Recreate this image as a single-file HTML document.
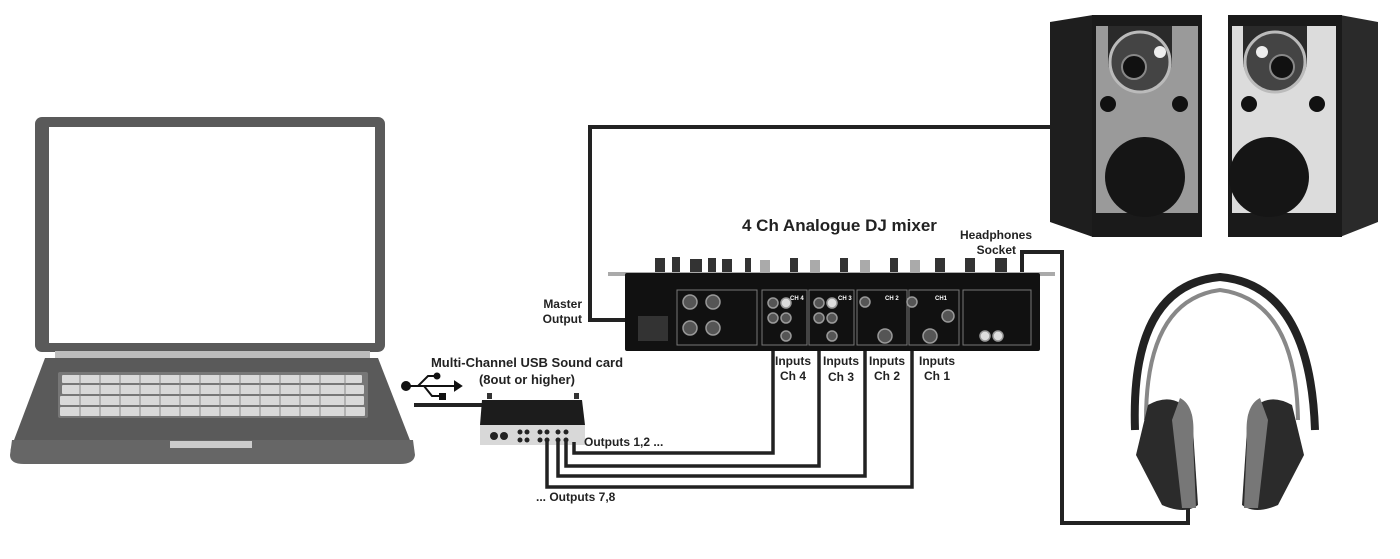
<!DOCTYPE html>
<html><head><meta charset="utf-8"><style>
html,body{margin:0;padding:0;background:#fff;}
svg{display:block;}
text{font-family:"Liberation Sans",Arial,sans-serif;font-weight:bold;fill:#222;}
</style></head><body>
<svg width="1400" height="559" viewBox="0 0 1400 559" xmlns="http://www.w3.org/2000/svg">
<!-- Laptop -->
<rect x="35" y="117" width="350" height="235" rx="7" fill="#5a5a5a"/>
<rect x="49" y="127" width="326" height="216" fill="#fff"/>
<rect x="55" y="351" width="315" height="8" fill="#bdbdbd"/>
<path d="M45 358 H378 L413 448 Q415 462 400 462 H22 Q8 462 11 448 Z" fill="#5a5a5a"/>
<path d="M12 440 H413 L415 455 Q414 464 400 464 H24 Q10 464 10 455 Z" fill="#666"/>
<rect x="170" y="441" width="82" height="7" fill="#ccc"/>
<rect x="58" y="372" width="310" height="46" rx="2" fill="#777"/>
<g fill="#d9d9d9">
<rect x="62" y="375" width="300" height="8" rx="1"/>
<rect x="62" y="385" width="302" height="9" rx="1"/>
<rect x="60" y="396" width="304" height="9" rx="1"/>
<rect x="60" y="407" width="305" height="9" rx="1"/>
</g>
<g stroke="#8a8a8a" stroke-width="1">
<path d="M80 375v41M100 375v41M120 375v41M140 375v41M160 375v41M180 375v41M200 375v41M220 375v41M240 375v41M260 375v41M280 375v41M300 375v41M320 375v41M345 375v41"/>
</g>
<!-- USB symbol -->
<g fill="#111" stroke="#111" stroke-width="2">
<circle cx="406" cy="386" r="4"/>
<path d="M406 386 H455" fill="none"/>
<path d="M418 386 L428 376 H436" fill="none"/>
<path d="M424 386 L432 396 H441" fill="none"/>
<circle cx="437" cy="376" r="2.5"/>
<rect x="440" y="394" width="5" height="5"/>
<path d="M455 382 L461 386 L455 390 Z"/>
</g>
<path d="M414 405 H482" stroke="#222" stroke-width="4" fill="none"/>
<!-- Sound card -->
<rect x="487" y="393" width="5" height="6" fill="#333"/><rect x="574" y="393" width="5" height="6" fill="#333"/>
<path d="M482 400 H582 L585 425 H480 Z" fill="#1c1c1c"/>
<rect x="480" y="425" width="105" height="20" fill="#d8d8d8"/>
<g fill="#222"><circle cx="494" cy="436" r="4"/><circle cx="504" cy="436" r="4"/>
<circle cx="520" cy="432" r="2.5"/><circle cx="527" cy="432" r="2.5"/><circle cx="520" cy="440" r="2.5"/><circle cx="527" cy="440" r="2.5"/>
<circle cx="540" cy="432" r="2.5"/><circle cx="547" cy="432" r="2.5"/><circle cx="540" cy="440" r="2.5"/><circle cx="547" cy="440" r="2.5"/>
<circle cx="558" cy="432" r="2.5"/><circle cx="566" cy="432" r="2.5"/><circle cx="558" cy="440" r="2.5"/><circle cx="566" cy="440" r="2.5"/></g>
<g stroke="#222" stroke-width="3.5" fill="none">
<path d="M574 442 V453 H773 V300"/>
<path d="M566 442 V466 H819 V300"/>
<path d="M558 442 V476 H865 V300"/>
<path d="M547 442 V487 H912 V300"/>
</g>
<path d="M640 320 H590 V127 H1055" stroke="#222" stroke-width="4" fill="none"/>
<path d="M1022 274 V252 H1062 V523 H1188 V503" stroke="#222" stroke-width="4" fill="none"/>
<!-- Mixer -->
<g fill="#333">
<rect x="655" y="258" width="10" height="15"/><rect x="672" y="257" width="8" height="16"/><rect x="690" y="259" width="12" height="14"/><rect x="708" y="258" width="8" height="15"/><rect x="722" y="259" width="10" height="14"/><rect x="745" y="258" width="6" height="15"/><rect x="790" y="258" width="8" height="15"/><rect x="840" y="258" width="8" height="15"/><rect x="890" y="258" width="8" height="15"/><rect x="935" y="258" width="10" height="15"/><rect x="965" y="258" width="10" height="15"/><rect x="995" y="258" width="12" height="15"/>
</g>
<g fill="#aaa"><rect x="760" y="260" width="10" height="13"/><rect x="810" y="260" width="10" height="13"/><rect x="860" y="260" width="10" height="13"/><rect x="910" y="260" width="10" height="13"/></g>
<path d="M608 272 H1055 V276 H608 Z" fill="#aaa"/>
<rect x="625" y="273" width="415" height="78" rx="2" fill="#111"/>
<g fill="none" stroke="#777" stroke-width="1">
<rect x="677" y="290" width="80" height="55"/><rect x="762" y="290" width="45" height="55"/><rect x="809" y="290" width="45" height="55"/><rect x="857" y="290" width="50" height="55"/><rect x="909" y="290" width="50" height="55"/><rect x="963" y="290" width="68" height="55"/>
</g>
<rect x="638" y="316" width="30" height="25" fill="#333"/>
<g fill="#555" stroke="#999" stroke-width="1.5">
<circle cx="690" cy="302" r="7"/><circle cx="713" cy="302" r="7"/><circle cx="690" cy="328" r="7"/><circle cx="713" cy="328" r="7"/>
<circle cx="773" cy="303" r="5"/><circle cx="786" cy="303" r="5" fill="#ddd"/><circle cx="773" cy="318" r="5"/><circle cx="786" cy="318" r="5"/><circle cx="786" cy="336" r="5"/>
<circle cx="819" cy="303" r="5"/><circle cx="832" cy="303" r="5" fill="#ddd"/><circle cx="819" cy="318" r="5"/><circle cx="832" cy="318" r="5"/><circle cx="832" cy="336" r="5"/>
<circle cx="865" cy="302" r="5"/><circle cx="885" cy="336" r="7"/><circle cx="912" cy="302" r="5"/><circle cx="930" cy="336" r="7"/><circle cx="948" cy="316" r="6"/><circle cx="985" cy="336" r="5" fill="#ddd"/><circle cx="998" cy="336" r="5" fill="#ddd"/>
</g>
<g font-size="6"><text x="790" y="300" style="fill:#fff">CH 4</text><text x="838" y="300" style="fill:#fff">CH 3</text><text x="885" y="300" style="fill:#fff">CH 2</text><text x="935" y="300" style="fill:#fff">CH1</text></g>
<!-- Speakers -->
<path d="M1050 22 L1093 15 V237 L1050 222 Z" fill="#1e1e1e"/>
<rect x="1092" y="15" width="110" height="222" fill="#1a1a1a"/>
<path d="M1096 26 H1198 V213 H1096 Z" fill="#9a9a9a"/>
<path d="M1108 26 V60 A32 32 0 0 0 1172 60 V26 Z" fill="#2a2a2a"/>
<circle cx="1140" cy="62" r="30" fill="#444" stroke="#bbb" stroke-width="3"/>
<circle cx="1134" cy="67" r="12" fill="#111" stroke="#888" stroke-width="2"/>
<circle cx="1160" cy="52" r="6" fill="#eee"/>
<circle cx="1108" cy="104" r="8" fill="#111"/><circle cx="1180" cy="104" r="8" fill="#111"/>
<circle cx="1145" cy="177" r="40" fill="#151515"/>
<path d="M1378 22 L1340 15 V237 L1378 222 Z" fill="#2a2a2a"/>
<rect x="1228" y="15" width="114" height="222" fill="#1a1a1a"/>
<path d="M1232 26 H1336 V213 H1232 Z" fill="#dcdcdc"/>
<path d="M1243 26 V60 A32 32 0 0 0 1307 60 V26 Z" fill="#2a2a2a"/>
<circle cx="1275" cy="62" r="30" fill="#444" stroke="#bbb" stroke-width="3"/>
<circle cx="1282" cy="67" r="12" fill="#111" stroke="#888" stroke-width="2"/>
<circle cx="1262" cy="52" r="6" fill="#eee"/>
<circle cx="1249" cy="104" r="8" fill="#111"/><circle cx="1317" cy="104" r="8" fill="#111"/>
<circle cx="1269" cy="177" r="40" fill="#151515"/>
<!-- Headphones -->
<path d="M1135 430 Q1130 285 1220 277 Q1310 285 1315 430" fill="none" stroke="#222" stroke-width="8"/>
<path d="M1146 420 Q1146 300 1220 290 Q1296 300 1298 420" fill="none" stroke="#888" stroke-width="4"/>
<path d="M1148 405 Q1175 390 1192 415 L1198 505 Q1185 515 1162 505 L1136 455 Z" fill="#2b2b2b"/>
<path d="M1180 398 Q1196 406 1193 440 L1196 508 L1182 508 L1172 420 Z" fill="#777"/>
<path d="M1292 405 Q1265 390 1248 415 L1242 505 Q1255 515 1278 505 L1304 455 Z" fill="#2b2b2b"/>
<path d="M1260 398 Q1244 406 1247 440 L1244 508 L1258 508 L1268 420 Z" fill="#777"/>
<!-- Labels -->
<text x="742" y="231" font-size="17">4 Ch Analogue DJ mixer</text>
<text x="1032" y="239" font-size="12" text-anchor="end">Headphones</text>
<text x="1016" y="254" font-size="12" text-anchor="end">Socket</text>
<text x="582" y="308" font-size="12" text-anchor="end">Master</text>
<text x="582" y="323" font-size="12" text-anchor="end">Output</text>
<text x="527" y="367" font-size="13" text-anchor="middle">Multi-Channel USB Sound card</text>
<text x="527" y="384" font-size="13" text-anchor="middle">(8out or higher)</text>
<g font-size="12" text-anchor="middle">
<text x="793" y="365">Inputs</text><text x="793" y="380">Ch 4</text>
<text x="841" y="365">Inputs</text><text x="841" y="381">Ch 3</text>
<text x="887" y="365">Inputs</text><text x="887" y="380">Ch 2</text>
<text x="937" y="365">Inputs</text><text x="937" y="380">Ch 1</text>
</g>
<text x="584" y="446" font-size="12">Outputs 1,2 ...</text>
<text x="536" y="501" font-size="12">... Outputs 7,8</text>
</svg>
</body></html>
